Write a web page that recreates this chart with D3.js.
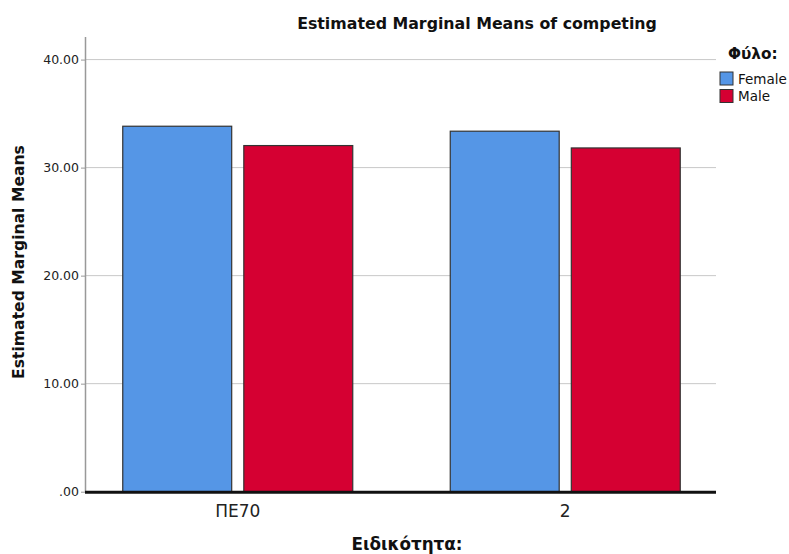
<!DOCTYPE html>
<html>
<head>
<meta charset="utf-8">
<script src="https://cdn.jsdelivr.net/npm/d3@7"></script>
<style>
  html, body { margin: 0; padding: 0; background: #fff; }
  svg { display: block; font-family: "DejaVu Sans", sans-serif; }
</style>
</head>
<body>
<svg id="chart" width="789" height="554"></svg>
<script>
const categories = ["ΠΕ70", "2"];
const seriesNames = ["Female", "Male"];
const femaleValues = [33.83, 33.37];
const maleValues = [32.04, 31.82];
const yTicks = [0, 10, 20, 30, 40];
const colors = ["#5596E6", "#D50032"];

const svg = d3.select("#chart");
const plot = { left: 86, right: 716, top: 37, bottom: 491.7 };

const y = d3.scaleLinear().domain([0, 42.09]).range([plot.bottom, plot.top]);
const x0 = d3.scaleBand().domain(categories).range([74, 729]).paddingInner(0).paddingOuter(0);
const groupW = 230;
const x1 = d3.scaleBand().domain(seriesNames).range([0, groupW]).paddingInner(0.1).paddingOuter(0);

const data = categories.map((c, i) => ({
  cat: c,
  vals: [
    { name: seriesNames[0], v: femaleValues[i] },
    { name: seriesNames[1], v: maleValues[i] }
  ]
}));

// gridlines
svg.append("g")
  .selectAll("line")
  .data(yTicks.filter(d => d > 0))
  .join("line")
  .attr("x1", plot.left).attr("x2", plot.right)
  .attr("y1", d => y(d)).attr("y2", d => y(d))
  .attr("stroke", "#c8c8c8").attr("stroke-width", 1);

// y axis
const yAxis = d3.axisLeft(y).tickValues(yTicks)
  .tickFormat(d => d === 0 ? ".00" : d3.format(".2f")(d))
  .tickSize(5).tickSizeOuter(0);
const yg = svg.append("g").attr("transform", `translate(${plot.left},0)`).call(yAxis);
yg.select(".domain").remove();
yg.selectAll(".tick line").attr("stroke", "#999").attr("stroke-width", 1);
yg.selectAll(".tick text").attr("font-size", 12.5).attr("fill", "#222")
  .attr("font-family", "DejaVu Sans, sans-serif").attr("x", -7);
svg.append("line")
  .attr("x1", plot.left - 0.5).attr("x2", plot.left - 0.5)
  .attr("y1", plot.top).attr("y2", plot.bottom)
  .attr("stroke", "#999").attr("stroke-width", 1.5);

// bars
const groups = svg.append("g").selectAll("g")
  .data(data).join("g")
  .attr("transform", d => `translate(${x0(d.cat) + x0.bandwidth() / 2 - groupW / 2},0)`);
groups.selectAll("rect")
  .data(d => d.vals).join("rect")
  .attr("x", d => x1(d.name))
  .attr("width", x1.bandwidth())
  .attr("y", d => y(d.v))
  .attr("height", d => y(0) - y(d.v))
  .attr("fill", (d, i) => colors[i])
  .attr("stroke", "#333").attr("stroke-width", 1.2);

// baseline
svg.append("line")
  .attr("x1", plot.left - 1).attr("x2", plot.right)
  .attr("y1", y(0) + 0.5).attr("y2", y(0) + 0.5)
  .attr("stroke", "#111").attr("stroke-width", 3);

// x axis labels
const xAxis = d3.axisBottom(x0).tickSize(0);
const xg = svg.append("g").attr("transform", `translate(0,${y(0)})`).call(xAxis);
xg.select(".domain").remove();
xg.selectAll(".tick text").attr("font-size", 17).attr("fill", "#222")
  .attr("font-family", "DejaVu Sans, sans-serif").attr("dy", "0").attr("y", 25.5);

// titles
svg.append("text").attr("x", 477).attr("y", 29).attr("text-anchor", "middle")
  .attr("font-size", 15.8).attr("font-weight", "bold").attr("fill", "#111")
  .text("Estimated Marginal Means of competing");
svg.append("text").attr("transform", "translate(24,262) rotate(-90)")
  .attr("text-anchor", "middle")
  .attr("font-size", 15.6).attr("font-weight", "bold").attr("fill", "#111")
  .text("Estimated Marginal Means");
svg.append("text").attr("x", 407).attr("y", 550).attr("text-anchor", "middle")
  .attr("font-size", 16.8).attr("font-weight", "bold").attr("fill", "#111")
  .text("Ειδικότητα:");

// legend
svg.append("text").attr("x", 728).attr("y", 59)
  .attr("font-size", 15.3).attr("font-weight", "bold").attr("fill", "#111")
  .text("Φύλο:");
const lg = svg.append("g").selectAll("g").data(seriesNames).join("g")
  .attr("transform", (d, i) => `translate(720,${72 + i * 17.5})`);
lg.append("rect").attr("width", 13).attr("height", 13)
  .attr("fill", (d, i) => colors[i]).attr("stroke", "#333").attr("stroke-width", 1);
lg.append("text").attr("x", 18).attr("y", 11.5)
  .attr("font-size", 13.5).attr("fill", "#111").text(d => d);
</script>
</body>
</html>
